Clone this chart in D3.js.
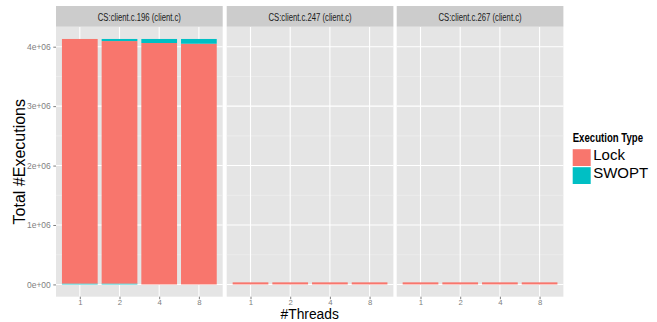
<!DOCTYPE html>
<html>
<head>
<meta charset="utf-8">
<script src="https://cdn.jsdelivr.net/npm/d3@7"></script>
<style>
  body { margin: 0; background: #fff; }
  text { font-family: "Liberation Sans", Arial, sans-serif; }
</style>
</head>
<body>
<div id="chart"></div>
<script>
const panels = ["CS:client.c.196 (client.c)", "CS:client.c.247 (client.c)", "CS:client.c.267 (client.c)"];
const threads = ["1", "2", "4", "8"];
// stacked from the bottom: swopt (bottom), lock, swopt (top)
const swoptBottomValues = [[15000, 15000, 0, 0], [0, 0, 0, 0], [0, 0, 0, 0]];
const lockValues = [[4115000, 4080000, 4062000, 4050000], [35000, 35000, 35000, 35000], [35000, 35000, 35000, 35000]];
const swoptTopValues = [[0, 35000, 68000, 80000], [0, 0, 0, 0], [0, 0, 0, 0]];
const yTicks = [0, 1e6, 2e6, 3e6, 4e6];
const yTickLabels = ["0e+00", "1e+06", "2e+06", "3e+06", "4e+06"];
const seriesNames = ["Lock", "SWOPT"];
const COLORS = { Lock: "#F8766D", SWOPT: "#00BFC4" };

const W = 657, H = 322;
const panelTop = 26.7, panelBottom = 296.7, stripTop = 6;
const panelX = [56, 226.7, 396.7], panelW = 166.7;

const svg = d3.select("#chart").append("svg").attr("width", W).attr("height", H);

// y scale with ggplot-style 5% expansion
const totals = panels.flatMap((p, i) => threads.map((t, j) => swoptBottomValues[i][j] + lockValues[i][j] + swoptTopValues[i][j]));
const yMax = d3.max(totals);
const y = d3.scaleLinear().domain([-0.05 * yMax, 1.05 * yMax]).range([panelBottom, panelTop]);
const minorTicks = d3.range(0.5e6, 4.5e6, 1e6);

panels.forEach((name, i) => {
  const g = svg.append("g").attr("transform", `translate(${panelX[i]},0)`);
  const x = d3.scalePoint().domain(threads).range([0, panelW]).padding(0.6);
  const bw = x.step() * 0.9;

  g.append("rect").attr("x", 0).attr("y", panelTop).attr("width", panelW)
    .attr("height", panelBottom - panelTop).attr("fill", "#E5E5E5");

  g.selectAll(".minor").data(minorTicks).enter().append("line")
    .attr("x1", 0).attr("x2", panelW).attr("y1", d => y(d)).attr("y2", d => y(d))
    .attr("stroke", "#F2F2F2").attr("stroke-width", 0.6);
  g.selectAll(".major").data(yTicks).enter().append("line")
    .attr("x1", 0).attr("x2", panelW).attr("y1", d => y(d)).attr("y2", d => y(d))
    .attr("stroke", "#fff").attr("stroke-width", 1.1);
  g.selectAll(".vmajor").data(threads).enter().append("line")
    .attr("x1", d => x(d)).attr("x2", d => x(d)).attr("y1", panelTop).attr("y2", panelBottom)
    .attr("stroke", "#fff").attr("stroke-width", 1.1);

  threads.forEach((t, j) => {
    const segs = [
      { key: "SWOPT", v: swoptBottomValues[i][j] },
      { key: "Lock", v: lockValues[i][j] },
      { key: "SWOPT", v: swoptTopValues[i][j] }
    ];
    let base = 0;
    segs.forEach(s => {
      if (s.v > 0) {
        g.append("rect").attr("x", x(t) - bw / 2).attr("width", bw)
          .attr("y", y(base + s.v)).attr("height", y(base) - y(base + s.v))
          .attr("fill", COLORS[s.key]);
      }
      base += s.v;
    });
  });

  // strip
  g.append("rect").attr("x", 0).attr("y", stripTop).attr("width", panelW)
    .attr("height", panelTop - stripTop).attr("fill", "#CCCCCC");
  g.append("text").attr("transform", `translate(${panelW / 2},20.5) scale(0.735,1)`)
    .attr("text-anchor", "middle").attr("font-size", 10.5).attr("fill", "#1A1A1A").text(name);

  // x axis
  const ax = g.append("g").attr("transform", `translate(0,${panelBottom})`)
    .call(d3.axisBottom(x).tickSize(2.5).tickPadding(0));
  ax.select(".domain").remove();
  ax.selectAll("line").attr("stroke", "#7F7F7F");
  ax.selectAll("text").attr("font-size", 7.8).attr("fill", "#7F7F7F")
    .attr("font-family", "Liberation Sans, Arial, sans-serif");
});

// y axis
const yAx = svg.append("g").attr("transform", `translate(${panelX[0]},0)`)
  .call(d3.axisLeft(y).tickValues(yTicks).tickFormat((d, i) => yTickLabels[i]).tickSize(2.7).tickPadding(2.5));
yAx.select(".domain").remove();
yAx.selectAll("line").attr("stroke", "#7F7F7F");
yAx.selectAll("text").attr("font-size", 8.5).attr("fill", "#7F7F7F")
  .attr("font-family", "Liberation Sans, Arial, sans-serif");

// axis titles
svg.append("text").attr("transform", `translate(25,${(panelTop + panelBottom) / 2}) rotate(-90)`)
  .attr("text-anchor", "middle").attr("font-size", 16).attr("fill", "#000").text("Total #Executions");
svg.append("text").attr("x", (panelX[0] + panelX[2] + panelW) / 2).attr("y", 319)
  .attr("text-anchor", "middle").attr("font-size", 13.8).attr("fill", "#000").text("#Threads");

// legend
const lg = svg.append("g").attr("transform", "translate(572.7,0)");
lg.append("text").attr("transform", "translate(0,142) scale(0.74,1)")
  .attr("font-size", 13).attr("font-weight", "bold").text("Execution Type");
seriesNames.forEach((s, k) => {
  lg.append("rect").attr("x", 0).attr("y", 149.2 + k * 18).attr("width", 18).attr("height", 16.8)
    .attr("fill", COLORS[s]);
  lg.append("text").attr("x", 20.5).attr("y", 160 + k * 18).attr("font-size", 15).text(s);
});
</script>
</body>
</html>
